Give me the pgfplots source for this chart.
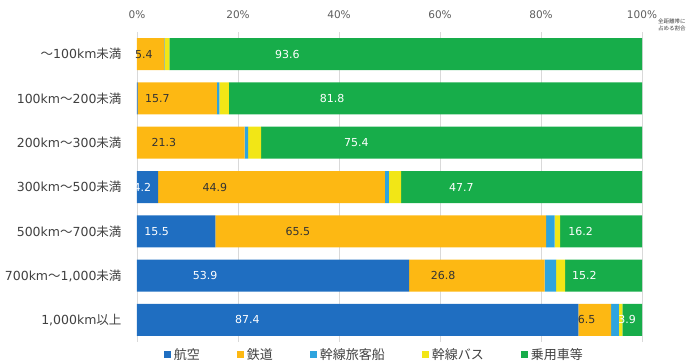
\documentclass[border=0pt]{standalone}
\usepackage{pgfplots}
\pgfplotsset{compat=1.18}
\usepackage{pgfplotstable}
\usepackage{fontspec}
\setmainfont{DejaVu Sans}
\newfontfamily\jp{Noto Sans CJK JP}
\newcommand{\J}[1]{{\jp #1}}
\definecolor{cAir}{HTML}{1F6EC1}
\definecolor{cRail}{HTML}{FDB813}
\definecolor{cShip}{HTML}{2EA4DE}
\definecolor{cBus}{HTML}{F2E616}
\definecolor{cCar}{HTML}{17AD4A}
\definecolor{cGrid}{HTML}{D9D9D9}
\definecolor{cText}{HTML}{404040}

\pgfplotstableread{
y air rail ship bus car
0 0 5.4 0.1 0.9 93.6
1 0.1 15.7 0.5 1.9 81.8
2 0 21.3 0.7 2.6 75.4
3 4.2 44.9 0.8 2.4 47.7
4 15.5 65.5 1.7 1.1 16.2
5 53.9 26.8 2.3 1.8 15.2
6 87.4 6.5 1.5 0.7 3.9
}\datatable

\pgfplotsset{
  lbl/.style n args={2}{
    visualization depends on={\thisrow{#1} \as \rawv},
    nodes near coords={\pgfmathparse{\rawv>3}\ifnum\pgfmathresult>0 \pgfmathprintnumber[fixed,fixed zerofill,precision=1]{\rawv}\fi},
    nodes near coords style={anchor=center, xshift={-\rawv*1.2625pt}, text=#2, font=\fontsize{11}{12}\selectfont},
  },
}

\begin{document}
\begin{tikzpicture}
\useasboundingbox (-137pt,-22pt) rectangle (552pt,342pt);
\begin{axis}[
  name=ax,
  at={(0pt,0pt)}, anchor=south west,
  scale only axis,
  x=5.05pt, y=44.2857pt,
  xbar stacked, bar width=32pt,
  xmin=0, xmax=100, ymin=-0.5, ymax=6.5,
  y dir=reverse,
  axis line style={draw=none},
  major tick length=0pt,
  xtick={0,20,...,100},
  xticklabel pos=upper,
  xticklabel={\pgfmathprintnumber{\tick}\%},
  /pgf/number format/assume math mode=true,
  xticklabel style={font=\fontsize{10.5}{12}\selectfont, text=cText!85, yshift=10pt},
  xmajorgrids, grid style={cGrid, line width=0.8pt},
  ytick={0,...,6},
  yticklabels={
    {\J{～}100km\J{未満}},
    {100km\J{～}200\J{未満}},
    {200km\J{～}300\J{未満}},
    {300km\J{～}500\J{未満}},
    {500km\J{～}700\J{未満}},
    {700km\J{～}1,000\J{未満}},
    {1,000km\J{以上}}
  },
  yticklabel style={font=\fontsize{12.5}{14}\selectfont, text=cText, xshift=-12pt},
  legend style={at={(0.47,-0.008)}, anchor=north, draw=none, fill=none,
    legend columns=-1, font=\jp\fontsize{13}{14}\selectfont, text=cText,
    /tikz/every odd column/.append style={column sep=1pt},
    /tikz/every even column/.append style={column sep=35pt}},
  legend image code/.code={\fill[#1] (0pt,-3.5pt) rectangle (7pt,3.5pt);},
]
\addplot[fill=cAir, draw=none, lbl={air}{white}] table[x=air,y=y] {\datatable};
\addplot[fill=cRail, draw=none, lbl={rail}{black!80}] table[x=rail,y=y] {\datatable};
\addplot[fill=cShip, draw=none] table[x=ship,y=y] {\datatable};
\addplot[fill=cBus, draw=none] table[x=bus,y=y] {\datatable};
\addplot[fill=cCar, draw=none, lbl={car}{white}] table[x=car,y=y] {\datatable};
\legend{航空,鉄道,幹線旅客船,幹線バス,乗用車等}
\end{axis}
\node[anchor=north west, font=\jp\fontsize{5.5}{6.5}\selectfont, text=cText, align=left, inner sep=0pt]
  at ([xshift=16pt,yshift=13pt]ax.north east) {全距離帯に\\占める割合};
\end{tikzpicture}
\end{document}
